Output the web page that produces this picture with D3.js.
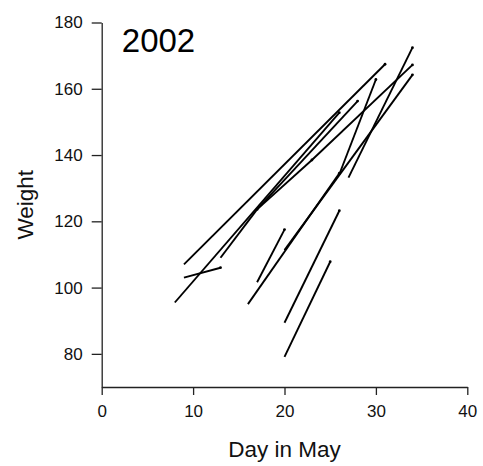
<!DOCTYPE html>
<html>
<head>
<meta charset="utf-8">
<script src="https://cdn.jsdelivr.net/npm/d3@7"></script>
<style>
  html, body { margin: 0; padding: 0; background: #fff; }
  svg { display: block; font-family: "Liberation Sans", Arial, sans-serif; }
</style>
</head>
<body>
<svg id="chart" width="483" height="466"></svg>
<script>
// Each segment: bird weighed on two days (start -> end)
const startDay = [9, 8, 9, 13, 17, 17, 23, 17, 16, 20, 26, 20, 20, 27];
const startWeight = [107, 95.5, 103, 109, 123.6, 123.6, 138.5, 101.6, 95, 111.3, 134.2, 89.4, 79.1, 133.2];
const endDay = [31, 26, 13, 17, 28, 23, 34, 20, 26, 34, 30, 26, 25, 34];
const endWeight = [167.4, 152.8, 106, 123.6, 156.3, 138.5, 167.2, 117.5, 134.5, 164.2, 162.8, 123.2, 107.8, 172.4];
const xTicks = [0, 10, 20, 30, 40];
const yTicks = [80, 100, 120, 140, 160, 180];
const panelTitle = "2002";
const xLabel = "Day in May";
const yLabel = "Weight";

const segments = startDay.map((d, i) => ({
  x1: d, y1: startWeight[i], x2: endDay[i], y2: endWeight[i]
}));

const svg = d3.select("#chart");
const x = d3.scaleLinear().domain([0, 40]).range([101.7, 467.3]);
const y = d3.scaleLinear().domain([70, 180]).range([387, 22.5]);

// axes
const xAxis = svg.append("g")
  .attr("transform", `translate(0,${y(70)})`)
  .call(d3.axisBottom(x).tickValues(xTicks).tickSize(8).tickSizeOuter(0).tickPadding(10));
const yAxis = svg.append("g")
  .attr("transform", `translate(${x(0)},0)`)
  .call(d3.axisLeft(y).tickValues(yTicks).tickSize(10).tickSizeOuter(0).tickPadding(9));

[xAxis, yAxis].forEach(g => {
  g.attr("font-size", null).attr("font-family", null);
  g.selectAll("path.domain").attr("stroke", "#222").attr("stroke-width", 1.3);
  g.selectAll(".tick line").attr("stroke", "#222").attr("stroke-width", 1.3);
  g.selectAll(".tick text")
    .attr("fill", "#111")
    .style("font-family", '"Liberation Sans", Arial, sans-serif')
    .style("font-size", "17px");
});

// segments
svg.append("g").selectAll("line.seg")
  .data(segments)
  .join("line")
  .attr("class", "seg")
  .attr("x1", d => x(d.x1)).attr("y1", d => y(d.y1))
  .attr("x2", d => x(d.x2)).attr("y2", d => y(d.y2))
  .attr("stroke", "#000")
  .attr("stroke-width", 1.9);

svg.append("g").selectAll("circle.end")
  .data(segments)
  .join("circle")
  .attr("class", "end")
  .attr("cx", d => x(d.x2)).attr("cy", d => y(d.y2))
  .attr("r", 1.4)
  .attr("fill", "#000");

// panel title
svg.append("text")
  .attr("x", x(2.2)).attr("y", y(171))
  .style("font-size", "33px")
  .attr("fill", "#000")
  .text(panelTitle);

// axis labels
svg.append("text")
  .attr("x", x(20)).attr("y", 457)
  .attr("text-anchor", "middle")
  .style("font-size", "22.5px")
  .attr("fill", "#111")
  .text(xLabel);

svg.append("text")
  .attr("transform", `translate(33,${(y(70) + y(180)) / 2}) rotate(-90)`)
  .attr("text-anchor", "middle")
  .style("font-size", "22.5px")
  .attr("fill", "#111")
  .text(yLabel);
</script>
</body>
</html>
